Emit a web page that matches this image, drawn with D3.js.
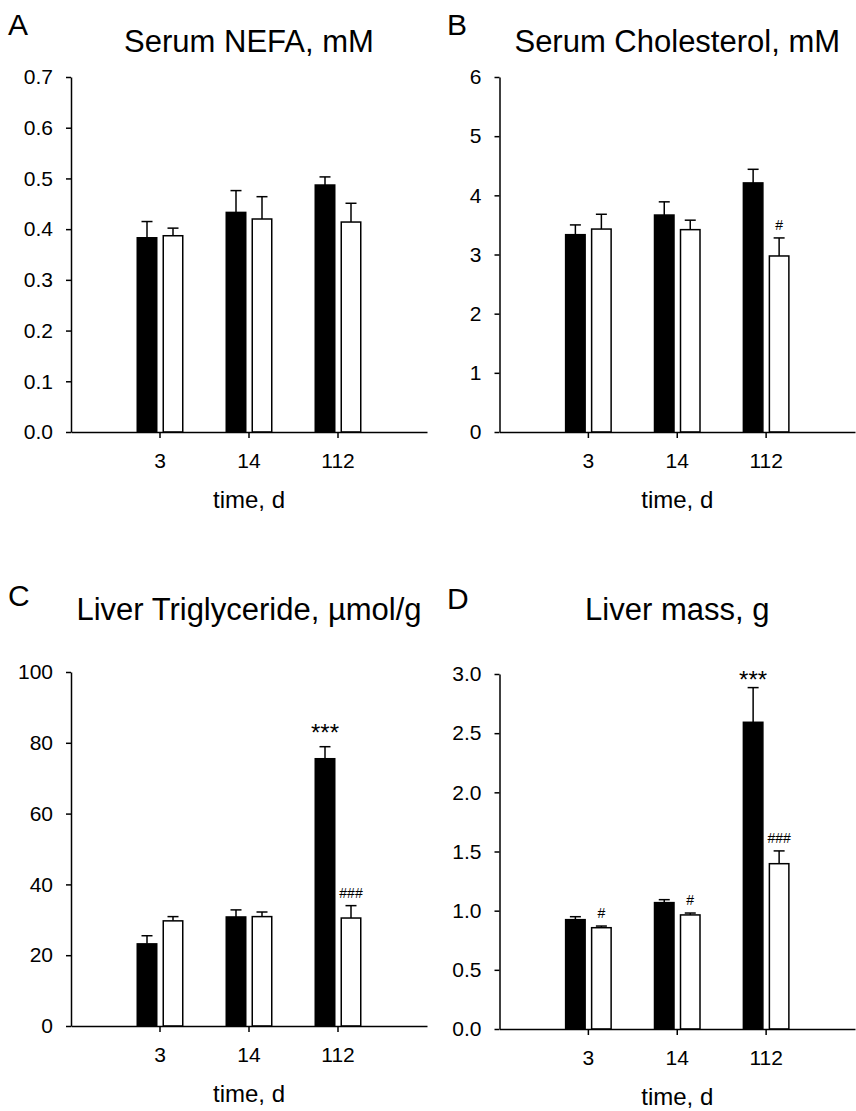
<!DOCTYPE html>
<html>
<head>
<meta charset="utf-8">
<script src="https://cdn.jsdelivr.net/npm/d3@7"></script>
<style>
  html, body { margin: 0; padding: 0; background: #fff; }
  svg { display: block; }
  text { font-family: "Liberation Sans", Arial, Helvetica, sans-serif; fill: #000; }
</style>
</head>
<body>
<svg id="chart" width="856" height="1111"></svg>
<script>
// time points (days)
const times = ["3", "14", "112"]

// A: serum NEFA, mM
const nefaFilled = [0.383, 0.433, 0.487]
const nefaFilledErr = [0.032, 0.043, 0.016]
const nefaOpen = [0.387, 0.420, 0.414]
const nefaOpenErr = [0.015, 0.044, 0.037]
const nefaTicks = [0, 0.1, 0.2, 0.3, 0.4, 0.5, 0.6, 0.7]

// B: serum cholesterol, mM
const cholFilled = [3.335, 3.667, 4.21]
const cholFilledErr = [0.165, 0.223, 0.23]
const cholOpen = [3.43, 3.42, 2.975]
const cholOpenErr = [0.25, 0.16, 0.305]
const cholTicks = [0, 1, 2, 3, 4, 5, 6]
const cholMarks = [{ series: "open", i: 2, text: "#" }]

// C: liver triglyceride, umol/g
const tgFilled = [23.2, 30.8, 75.5]
const tgFilledErr = [2.3, 2.0, 3.4]
const tgOpen = [29.7, 30.9, 30.5]
const tgOpenErr = [1.2, 1.3, 3.5]
const tgTicks = [0, 20, 40, 60, 80, 100]
const tgMarks = [
  { series: "filled", i: 2, text: "***" },
  { series: "open", i: 2, text: "###" }
]

// D: liver mass, g
const massFilled = [0.924, 1.068, 2.592]
const massFilledErr = [0.025, 0.025, 0.293]
const massOpen = [0.856, 0.964, 1.397]
const massOpenErr = [0.014, 0.016, 0.108]
const massTicks = [0, 0.5, 1.0, 1.5, 2.0, 2.5, 3.0]
const massMarks = [
  { series: "open", i: 0, text: "#" },
  { series: "open", i: 1, text: "#" },
  { series: "filled", i: 2, text: "***" },
  { series: "open", i: 2, text: "###" }
]

const panels = [
  { letter: "A", title: "Serum NEFA, mM", filled: nefaFilled, filledErr: nefaFilledErr,
    open: nefaOpen, openErr: nefaOpenErr, ticks: nefaTicks, fmt: ".1f", marks: [],
    left: 71, right: 427, top: 77, bottom: 432, titleY: 52, letterX: 8, letterY: 35, starGap: 6 },
  { letter: "B", title: "Serum Cholesterol, mM", filled: cholFilled, filledErr: cholFilledErr,
    open: cholOpen, openErr: cholOpenErr, ticks: cholTicks, fmt: "d", marks: cholMarks,
    left: 499.5, right: 855, top: 77, bottom: 432, titleY: 52, letterX: 447, letterY: 35, starGap: 6 },
  { letter: "C", title: "Liver Triglyceride, µmol/g", filled: tgFilled, filledErr: tgFilledErr,
    open: tgOpen, openErr: tgOpenErr, ticks: tgTicks, fmt: "d", marks: tgMarks,
    left: 71, right: 427, top: 672, bottom: 1026, titleY: 620, letterX: 8, letterY: 606, starGap: 6 },
  { letter: "D", title: "Liver mass, g", filled: massFilled, filledErr: massFilledErr,
    open: massOpen, openErr: massOpenErr, ticks: massTicks, fmt: ".1f", marks: massMarks,
    left: 499.5, right: 855, top: 674, bottom: 1029, titleY: 620, letterX: 447, letterY: 609, starGap: 0 }
]

const svg = d3.select("#chart")
const barW = 19.5
const barOff = 13
const capW = 11

panels.forEach(p => {
  const g = svg.append("g")

  const x = d3.scaleBand()
    .domain(times)
    .range([p.left, p.right])
    .paddingInner(0)
    .paddingOuter(0.5)

  const y = d3.scaleLinear()
    .domain([p.ticks[0], p.ticks[p.ticks.length - 1]])
    .range([p.bottom, p.top])

  const cx = (t, series) => x(t) + x.bandwidth() / 2 + (series === "filled" ? -barOff : barOff)

  // panel letter + title
  g.append("text")
    .attr("x", p.letterX).attr("y", p.letterY)
    .attr("font-size", 30)
    .text(p.letter)

  g.append("text")
    .attr("x", (p.left + p.right) / 2).attr("y", p.titleY)
    .attr("text-anchor", "middle")
    .attr("font-size", 31)
    .text(p.title)

  // bars
  const rows = []
  times.forEach((t, i) => {
    rows.push({ t, i, series: "filled", v: p.filled[i], e: p.filledErr[i] })
    rows.push({ t, i, series: "open", v: p.open[i], e: p.openErr[i] })
  })

  // error bars (upper only)
  const err = g.append("g")
    .attr("stroke", "#000")
    .attr("stroke-width", 1.5)
  err.selectAll("line.stem")
    .data(rows)
    .join("line")
    .attr("class", "stem")
    .attr("x1", d => cx(d.t, d.series)).attr("x2", d => cx(d.t, d.series))
    .attr("y1", d => y(d.v)).attr("y2", d => y(d.v + d.e))
  err.selectAll("line.cap")
    .data(rows)
    .join("line")
    .attr("class", "cap")
    .attr("x1", d => cx(d.t, d.series) - capW / 2).attr("x2", d => cx(d.t, d.series) + capW / 2)
    .attr("y1", d => y(d.v + d.e)).attr("y2", d => y(d.v + d.e))

  g.append("g")
    .selectAll("rect")
    .data(rows)
    .join("rect")
    .attr("x", d => cx(d.t, d.series) - barW / 2)
    .attr("width", barW)
    .attr("y", d => y(d.v))
    .attr("height", d => y(0) - y(d.v))
    .attr("fill", d => d.series === "filled" ? "#000" : "#fff")
    .attr("stroke", "#000")
    .attr("stroke-width", 1.5)

  // significance marks
  g.append("g")
    .selectAll("text")
    .data(p.marks)
    .join("text")
    .attr("x", d => cx(times[d.i], d.series))
    .attr("y", d => {
      const v = d.series === "filled" ? p.filled[d.i] + p.filledErr[d.i] : p.open[d.i] + p.openErr[d.i]
      return y(v) - (d.text.startsWith("*") ? p.starGap : 8)
    })
    .attr("text-anchor", "middle")
    .attr("font-size", d => d.text.startsWith("*") ? 24 : 14)
    .attr("fill", d => d.text.startsWith("*") ? "#000" : "#333")
    .text(d => d.text)

  // axes
  const yAxis = g.append("g")
    .attr("transform", `translate(${p.left},0)`)
    .call(d3.axisLeft(y).tickValues(p.ticks).tickFormat(d3.format(p.fmt))
      .tickSize(5).tickSizeOuter(0).tickPadding(13))
  const xAxis = g.append("g")
    .attr("transform", `translate(0,${p.bottom})`)
    .call(d3.axisBottom(x).tickSize(6).tickSizeOuter(0).tickPadding(15))

  ;[yAxis, xAxis].forEach(a => {
    a.attr("font-family", null).attr("font-size", null)
    a.selectAll("path, line").attr("stroke", "#000").attr("stroke-width", 1.5)
    a.selectAll("text").attr("font-size", 21).attr("fill", "#000")
  })

  g.append("text")
    .attr("x", (p.left + p.right) / 2).attr("y", p.bottom + 76)
    .attr("text-anchor", "middle")
    .attr("font-size", 24)
    .text("time, d")
})
</script>
</body>
</html>
